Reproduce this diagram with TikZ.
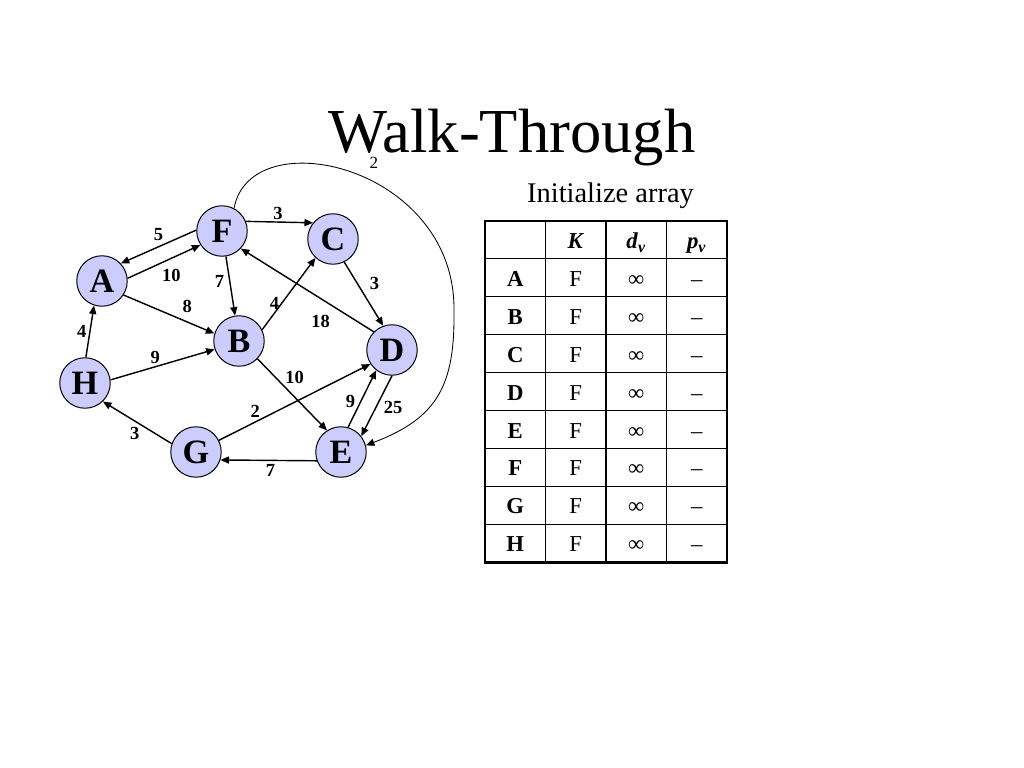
\documentclass[tikz,border=0pt]{standalone}
\usepackage{fontspec}
\setmainfont{Liberation Serif}
\usetikzlibrary{arrows.meta,positioning}
\definecolor{myvertex}{RGB}{204,204,255}
\definecolor{myline}{RGB}{0,0,0}
\newcommand{\cellw}{60.5}
\newcommand{\cellh}{37.9}
\newcommand{\tabx}{485}
\newcommand{\taby}{221}
\newcommand{\basegap}{27.5}
\newcommand{\cellfont}{\fontsize{16}{16}\selectfont}
\tikzset{
    vertex/.style={draw=myline, line width=0.7pt, circle, fill=myvertex, minimum size=35.5pt, inner sep=0pt, font=\fontsize{24}{24}\selectfont\bfseries},
    link/.style={draw=myline, line width=1pt, -{Triangle[length=6pt, width=5pt]}},
    wlabel/.style={inner sep=1pt, font=\fontsize{13}{13}\selectfont\bfseries},
    cell/.style={anchor=base, inner sep=0pt, font=\cellfont},
    thinrule/.style={line width=0.75pt},
    thickrule/.style={line width=2pt}
}
\begin{document}
\begin{tikzpicture}[x=0.703125pt, y=-0.703125pt]
    \useasboundingbox (0,0) rectangle (1024,768);

    % title
    \node[anchor=base, font=\fontsize{44}{44}\selectfont] (title) at (512,153) {Walk-Through};
    \node[font=\fontsize{12}{12}\selectfont, inner sep=0pt] (title-sub) at (374,162.5) {2};

    % graph
    \node[vertex] (F) at (222,231) {F};
    \node[vertex] (C) at (333,239) {C};
    \node[vertex] (A) at (102,281) {A};
    \node[vertex] (B) at (239,341) {B};
    \node[vertex] (D) at (392,350) {D};
    \node[vertex] (H) at (85,383) {H};
    \node[vertex] (G) at (196,452) {G};
    \node[vertex] (E) at (341,452) {E};

    \draw[link] (F.178) -- node[wlabel, above=3pt] {5} (A.43);
    \draw[link] (A.6) -- node[wlabel, pos=0.6, below=6pt] {10} (F.213);
    \draw[link] (F.22) -- node[wlabel, pos=0.48, above] {3} (C.141);
    \draw[link] (F) -- node[wlabel, pos=0.43, left=2.5pt] {7} (B);
    \draw[link] (A.-33) -- node[wlabel, pos=0.7, above=5pt] {8} (B.163);
    \draw[link] (B.26) -- node[wlabel, pos=0.36, left] {4} (C.227);
    \draw[link] (C.-64) -- node[wlabel, pos=0.33, right=7.5pt] {3} (D.110);
    \draw[link] (D.135) -- node[wlabel, pos=0.4, below=10.5pt] {18} (F.-43);
    \draw[link] (H.88) -- node[wlabel, pos=0.49, left=1pt] {4} (A.-108);
    \draw[link] (H.7) -- node[wlabel, pos=0.43, above=1pt] {9} (B.199);
    \draw[link] (B.-44) -- node[wlabel, pos=0.37, above right] {10} (E.123);
    \draw[link] (G.27) -- node[wlabel, pos=0.24, above=1.5pt] {2} (D.213);
    \draw[link] (E.74) -- node[wlabel, pos=0.45, left=2.5pt] {9} (D.232);
    \draw[link] (D.270) -- node[wlabel, pos=0.52, right=4pt] {25} (E.38);
    \draw[link] (G.161) -- node[wlabel, pos=0.44, below left] {3} (H.-46);
    \draw[link] (E.200) -- node[wlabel, pos=0.48, below=1.5pt] {7} (G.-18);
    \draw[link, line width=0.6pt] (F.62) .. controls (250,120) and (455,165) .. (454,310)
        .. controls (455,385) and (438,418) .. (E.15);

    % array
    \node[anchor=base, font=\fontsize{20}{20}\selectfont] (caption) at (610.5,202.7) {Initialize array};
    \foreach \i in {1,...,8}
        \draw[thinrule] (\tabx,{\taby+\i*\cellh}) -- ++(4*\cellw,0);
    \foreach \j in {1,2,3}
        \draw[thinrule] ({\tabx+\j*\cellw},\taby) -- ++(0,9*\cellh);
    \draw[thickrule] (\tabx,\taby) rectangle ++(4*\cellw,9*\cellh);

    \node[cell] (head-K) at ({\tabx+1.5*\cellw},{\taby+\basegap}) {\textbf{\textit{K}}};
    \node[cell] (head-d) at ({\tabx+2.5*\cellw},{\taby+\basegap}) {\textbf{\textit{d}}\textsubscript{\textbf{\textit{v}}}};
    \node[cell] (head-p) at ({\tabx+3.5*\cellw},{\taby+\basegap}) {\textbf{\textit{p}}\textsubscript{\textbf{\textit{v}}}};
    \foreach \v [count=\i] in {A,B,C,D,E,F,G,H} {
        \node[cell, font=\cellfont\bfseries] (row-\v) at ({\tabx+0.5*\cellw},{\taby+\i*\cellh+\basegap}) {\v};
        \node[cell] (known-\v) at ({\tabx+1.5*\cellw},{\taby+\i*\cellh+\basegap}) {F};
        \node[cell] (dist-\v) at ({\tabx+2.5*\cellw},{\taby+\i*\cellh+\basegap}) {∞};
        \node[cell] (prev-\v) at ({\tabx+3.5*\cellw},{\taby+\i*\cellh+\basegap}) {–};
    }
\end{tikzpicture}
\end{document}
